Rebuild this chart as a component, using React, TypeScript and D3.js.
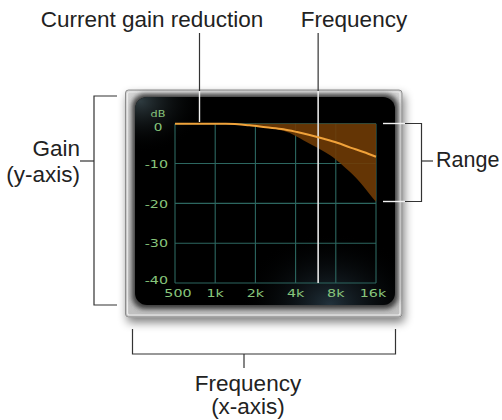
import React from "react";
import * as d3 from "d3";

// ---- data ----
const xTicks = [500, 1000, 2000, 4000, 8000, 16000];
const xTickLabels = ["500", "1k", "2k", "4k", "8k", "16k"];
const yTicks = [0, -10, -20, -30, -40];
const yTickLabels = ["0", "-10", "-20", "-30", "-40"];

// current gain reduction curve
const grFreq = [500, 1200, 1800, 2400, 3250, 4100, 5100, 6500, 8200, 10300, 12900, 16000];
const grDb = [0, 0, -0.4, -0.9, -1.4, -2.1, -2.85, -3.8, -4.8, -6.0, -7.1, -8.3];

// range lower bound
const rangeFreq = [500, 1000, 1500, 2000, 2500, 3000, 3600, 4100, 4600, 5400, 6000, 7300, 9100, 11500, 13000, 14500, 16000];
const rangeDb = [0, 0, -0.2, -0.5, -0.9, -1.5, -2.3, -3.3, -4.2, -5.5, -6.3, -8.0, -10.6, -13.8, -15.9, -17.9, -19.6];

const markerFreq = 5900;

export default function App() {
  const x = d3.scaleLog().domain([500, 16000]).range([175, 376]);
  const y = d3.scaleLinear().domain([-40, 0]).range([283, 123.7]);

  const grPts = grFreq.map((f, i) => [f, grDb[i]] as [number, number]);
  const rgPts = rangeFreq.map((f, i) => [f, rangeDb[i]] as [number, number]);

  const line = d3
    .line<[number, number]>()
    .x((d) => x(d[0]))
    .y((d) => y(d[1]))
    .curve(d3.curveMonotoneX);
  const area = d3
    .area<[number, number]>()
    .x((d) => x(d[0]))
    .y0(() => y(0))
    .y1((d) => y(d[1]))
    .curve(d3.curveMonotoneX);

  const font = "'Liberation Sans', Arial, Helvetica, sans-serif";
  const tickFont = "'DejaVu Sans', Verdana, sans-serif";
  const green = "#88c67c";
  const dark = "#333";
  const fs = 22.5;

  const mx = x(markerFreq);
  const grLeaderX = 199.5;

  return (
    <div style={{ position: "absolute", left: 0, top: 0 }}>
      <svg width={502} height={420} style={{ display: "block", background: "#fff" }}>
        <defs>
          <filter id="shadow" x="-20%" y="-20%" width="150%" height="150%">
            <feGaussianBlur in="SourceAlpha" stdDeviation="5" />
            <feOffset dx="2" dy="5" result="b" />
            <feComponentTransfer>
              <feFuncA type="linear" slope="0.5" />
            </feComponentTransfer>
            <feMerge>
              <feMergeNode />
              <feMergeNode in="SourceGraphic" />
            </feMerge>
          </filter>
          <filter id="blur3">
            <feGaussianBlur stdDeviation="2.5" />
          </filter>
          <linearGradient id="frameGrad" x1="0" y1="0" x2="0" y2="1">
            <stop offset="0" stopColor="#d4d4d4" />
            <stop offset="1" stopColor="#c0c0c0" />
          </linearGradient>
          <radialGradient id="glowBR" cx="0.75" cy="1.0" r="0.35">
            <stop offset="0" stopColor="#2b3f4c" stopOpacity="0.8" />
            <stop offset="1" stopColor="#000" stopOpacity="0" />
          </radialGradient>
          <radialGradient id="glowTL" cx="0.02" cy="0.02" r="0.25">
            <stop offset="0" stopColor="#3a4a50" stopOpacity="0.8" />
            <stop offset="1" stopColor="#000" stopOpacity="0" />
          </radialGradient>
        </defs>

        {/* panel frame */}
        <rect x={125.5} y={90} width={276.5} height={227} rx={3} fill="url(#frameGrad)" stroke="#8c8c8c" strokeWidth={1} filter="url(#shadow)" />
        <rect x={127.5} y={92} width={272.5} height={223} rx={2} fill="none" stroke="#ebebeb" strokeWidth={1.2} />
        {/* bezel */}
        <rect x={132} y={94} width={266} height={215} rx={13} fill="#3a3a3a" filter="url(#blur3)" />
        {/* screen */}
        <rect x={135} y={97} width={260} height={208} rx={12} fill="#000" />
        <rect x={135} y={97} width={260} height={208} rx={12} fill="url(#glowBR)" />
        <rect x={135} y={97} width={260} height={208} rx={12} fill="url(#glowTL)" />

        {/* grid */}
        <g stroke="#2c6760" strokeWidth={1.1}>
          {xTicks.map((t) => (
            <line key={"gx" + t} x1={x(t)} x2={x(t)} y1={y(0)} y2={y(-40)} />
          ))}
          {yTicks.map((t) => (
            <line key={"gy" + t} x1={x(500)} x2={x(16000)} y1={y(t)} y2={y(t)} />
          ))}
        </g>

        {/* range fill */}
        <path d={area(rgPts) || ""} fill="#6f3b06" fillOpacity={0.9} />

        {/* frequency marker */}
        <line x1={mx} x2={mx} y1={97} y2={y(-40)} stroke="#e6e6e6" strokeWidth={1.6} />

        {/* gain reduction line */}
        <path d={line(grPts) || ""} fill="none" stroke="#f0a23a" strokeWidth={2} />

        {/* tick labels */}
        <g fill={green} fontFamily={tickFont} fontSize={11}>
          <g transform={`translate(158,117) scale(1.25,1)`}>
            <text textAnchor="middle" fontSize={9}>dB</text>
          </g>
          {yTicks.map((t, i) => {
            const yy = y(t) + (t === -40 ? 1 : 4.2);
            if (t === 0) {
              return (
                <g key={"yl" + t} transform={`translate(158,${yy + 3}) scale(1.3,1)`}>
                  <text textAnchor="middle" fontSize={10.5}>{yTickLabels[i]}</text>
                </g>
              );
            }
            return (
              <g key={"yl" + t} transform={`translate(168,${yy}) scale(1.3,1)`}>
                <text textAnchor="end">{yTickLabels[i]}</text>
              </g>
            );
          })}
          {xTicks.map((t, i) => {
            const dx = i === 0 ? 3 : i === xTicks.length - 1 ? -3 : 0;
            return (
              <g key={"xl" + t} transform={`translate(${x(t) + dx},297) scale(1.3,1)`}>
                <text textAnchor="middle">{xTickLabels[i]}</text>
              </g>
            );
          })}
        </g>

        {/* annotations */}
        <g fontFamily={font} fontSize={fs} fill="#222">
          <text x={152} y={26.5} textAnchor="middle">Current gain reduction</text>
          <text x={354} y={26.5} textAnchor="middle">Frequency</text>
          <text x={80} y={156} textAnchor="end">Gain</text>
          <text x={80} y={182} textAnchor="end">(y-axis)</text>
          <text x={436} y={167} fontSize={21.5}>Range</text>
          <text x={248} y={390.5} textAnchor="middle">Frequency</text>
          <text x={248} y={413.5} textAnchor="middle">(x-axis)</text>
        </g>

        {/* leaders */}
        <g stroke={dark} strokeWidth={1.2} fill="none">
          <line x1={grLeaderX} x2={grLeaderX} y1={33} y2={91} />
          <line x1={mx} x2={mx} y1={33} y2={91} />
          {/* gain bracket */}
          <polyline points="117,96 94,96 94,305 117,305" />
          <line x1={80} x2={94} y1={161} y2={161} />
          {/* x bracket */}
          <polyline points="132.5,329 132.5,354 395.5,354 395.5,329" />
          <line x1={244} x2={244} y1={354} y2={368} />
          {/* range bracket */}
          <polyline points="405,123.5 421.5,123.5 421.5,201.5 405,201.5" />
          <line x1={421.5} x2={433} y1={161} y2={161} />
        </g>
        <g stroke="#f2f2f2" strokeWidth={1.4}>
          <line x1={grLeaderX} x2={grLeaderX} y1={91} y2={122} />
          <line x1={mx} x2={mx} y1={91} y2={97} />
          <line x1={383} x2={405} y1={123.5} y2={123.5} />
          <line x1={383} x2={405} y1={201.5} y2={201.5} />
        </g>
      </svg>
    </div>
  );
}
